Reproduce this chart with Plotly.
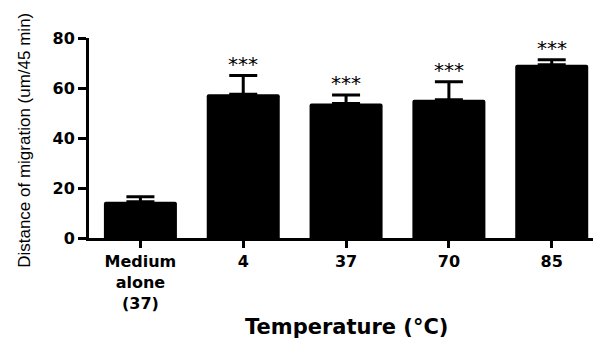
import plotly.graph_objects as go

categories = ["Medium<br>alone<br>(37)", "4", "37", "70", "85"]
means = [14.5, 57.5, 53.8, 55.3, 69.3]
sem_upper = [2.0, 7.5, 3.4, 7.2, 2.0]
significance = ["", "***", "***", "***", "***"]
yticks = [0, 20, 40, 60, 80]
x_title = "Temperature (°C)"
y_title = "Distance of migration (um/45 min)"

positions = list(range(len(categories)))

fig = go.Figure()
fig.add_trace(go.Bar(
    x=positions, y=means,
    marker=dict(color="black", line=dict(width=0), cornerradius=2),
    error_y=dict(type="data", symmetric=False, array=sem_upper,
                 arrayminus=[0] * len(means), color="black",
                 thickness=3, width=14),
    width=0.71,
))

for p, m, e, s in zip(positions, means, sem_upper, significance):
    if s:
        fig.add_annotation(x=p, y=m + e, text=s, showarrow=False,
                           yanchor="bottom", yshift=-2,
                           font=dict(family="DejaVu Sans", size=20, color="black"))

fig.add_annotation(xref="paper", yref="paper", x=0.505, y=-0.445,
                   text=x_title, showarrow=False, xanchor="center", yanchor="middle",
                   font=dict(family="DejaVu Sans", size=21, color="black", weight="bold"))
fig.add_annotation(xref="paper", yref="paper", x=-0.128, y=0.49,
                   text=y_title, showarrow=False, xanchor="center", yanchor="middle",
                   textangle=-90,
                   font=dict(family="Liberation Sans", size=17, color="black"))

tickfont = dict(family="DejaVu Sans", size=16, color="black", weight="bold")

# page body has an 8px default margin, so the figure is sized to fit the window
fig.update_layout(
    width=593, height=333,
    margin=dict(l=81, r=3, t=30, b=103),
    paper_bgcolor="white", plot_bgcolor="white",
    showlegend=False,
    xaxis=dict(
        range=[-0.5, 4.45], tickvals=positions, ticktext=categories,
        showline=True, linecolor="black", linewidth=3,
        ticks="outside", ticklen=7, tickwidth=3, tickcolor="black",
        tickfont=tickfont, showgrid=False, zeroline=False, automargin=False,
    ),
    yaxis=dict(
        range=[0, 80], tickvals=yticks,
        showline=True, linecolor="black", linewidth=3,
        ticks="outside", ticklen=8, tickwidth=3, tickcolor="black",
        tickfont=tickfont, showgrid=False, zeroline=False, automargin=False,
    ),
)

fig.write_html("out.html")
